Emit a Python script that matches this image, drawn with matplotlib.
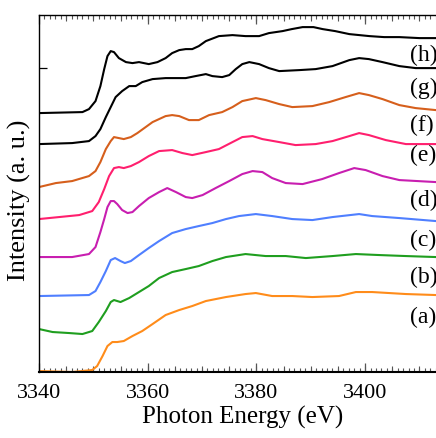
import matplotlib.pyplot as plt
import numpy as np
from matplotlib.ticker import MultipleLocator

plt.rcParams['font.family'] = ['Liberation Serif', 'DejaVu Serif']

# spectra, already stacked (arbitrary units)
energy_a = [3340, 3346.1, 3349.8, 3350.7, 3351.7, 3352.6, 3353.5, 3354.4, 3355.6, 3357.2, 3359.0, 3360.9,
            3363.3, 3365.8, 3368.2, 3370.7, 3374.4, 3378.0, 3379.9, 3382.9, 3386.6, 3390.3, 3395.2,
            3398.3, 3401.3, 3407.5, 3413, 3415]
inten_a = [0.01, 0.00, 0.02, 0.06, 0.16, 0.26, 0.30, 0.30, 0.31, 0.36, 0.41, 0.48,
           0.57, 0.62, 0.66, 0.71, 0.75, 0.78, 0.79, 0.76, 0.76, 0.75, 0.76,
           0.80, 0.80, 0.78, 0.77, 0.77]

energy_b = [3340, 3342.5, 3345.5, 3348.0, 3349.8, 3351.0, 3352.3, 3353.2, 3353.8, 3355.0, 3356.6, 3358.4,
            3360.2, 3362.1, 3364.5, 3367.0, 3369.4, 3371.9, 3374.4, 3378.0, 3381.7, 3385.4, 3389.1,
            3394.0, 3398.3, 3402.6, 3407.5, 3413, 3415]
inten_b = [0.43, 0.40, 0.39, 0.38, 0.41, 0.50, 0.61, 0.70, 0.72, 0.70, 0.74, 0.80,
           0.86, 0.94, 1.00, 1.03, 1.06, 1.11, 1.15, 1.18, 1.16, 1.16, 1.14,
           1.16, 1.18, 1.17, 1.16, 1.15, 1.15]

energy_c = [3340, 3349.2, 3350.4, 3351.3, 3352.3, 3353.2, 3354.0, 3355.0, 3355.8, 3356.9, 3358.4, 3360.2,
            3362.1, 3364.5, 3367.0, 3369.4, 3371.9, 3374.4, 3376.8, 3379.9, 3382.9, 3386.6, 3390.3,
            3394.0, 3398.9, 3401.3, 3406.3, 3413, 3415]
inten_c = [0.76, 0.77, 0.81, 0.90, 1.01, 1.12, 1.14, 1.11, 1.09, 1.11, 1.17, 1.24,
           1.31, 1.39, 1.43, 1.46, 1.49, 1.53, 1.56, 1.58, 1.56, 1.53, 1.52,
           1.55, 1.58, 1.56, 1.54, 1.51, 1.51]

energy_d = [3340, 3346.1, 3349.2, 3350.4, 3350.7, 3351.3, 3352.0, 3352.6, 3353.2, 3353.8, 3354.4, 3355.3,
            3356.3, 3357.2, 3358.4, 3360.2, 3362.1, 3363.6, 3365.2, 3367.0, 3368.2, 3370.1, 3372.5,
            3375.0, 3377.4, 3379.3, 3381.1, 3382.9, 3385.4, 3388.5, 3392.1, 3395.2, 3398.0, 3400.1,
            3403.2, 3406.3, 3413, 3415]
inten_d = [1.15, 1.15, 1.18, 1.25, 1.30, 1.40, 1.53, 1.65, 1.71, 1.71, 1.68, 1.62,
           1.59, 1.60, 1.66, 1.74, 1.80, 1.84, 1.80, 1.75, 1.74, 1.77, 1.84,
           1.91, 1.98, 2.01, 2.00, 1.94, 1.89, 1.88, 1.93, 1.99, 2.04, 2.02,
           1.96, 1.92, 1.90, 1.90]

energy_e = [3340, 3343.7, 3347.4, 3349.8, 3351.0, 3352.0, 3352.9, 3353.8, 3354.7, 3355.6, 3356.9, 3358.4,
            3360.2, 3362.1, 3364.5, 3366.4, 3368.2, 3370.7, 3373.1, 3375.6, 3377.4, 3379.3, 3381.1,
            3384.2, 3387.2, 3390.9, 3394.0, 3397.1, 3398.9, 3400.7, 3403.8, 3407.5, 3413, 3415]
inten_e = [1.53, 1.55, 1.57, 1.61, 1.70, 1.83, 1.96, 2.04, 2.05, 2.04, 2.06, 2.10,
           2.16, 2.21, 2.22, 2.19, 2.17, 2.20, 2.23, 2.30, 2.35, 2.36, 2.33,
           2.30, 2.27, 2.28, 2.31, 2.36, 2.39, 2.37, 2.32, 2.28, 2.28, 2.28]

energy_f = [3340, 3343.1, 3346.1, 3349.2, 3350.4, 3351.3, 3352.3, 3353.2, 3353.8, 3354.7, 3355.6, 3356.9,
            3358.1, 3360.9, 3363.3, 3364.5, 3365.8, 3367.6, 3369.4, 3371.3, 3373.7, 3375.6, 3377.4,
            3379.9, 3381.7, 3384.2, 3386.6, 3390.3, 3393.4, 3396.4, 3398.9, 3400.7, 3403.2, 3406.3,
            3409.3, 3413, 3415]
inten_f = [1.85, 1.89, 1.91, 1.96, 2.01, 2.10, 2.23, 2.31, 2.35, 2.34, 2.33, 2.35,
           2.39, 2.50, 2.56, 2.57, 2.56, 2.52, 2.52, 2.57, 2.60, 2.65, 2.71,
           2.74, 2.72, 2.68, 2.65, 2.66, 2.70, 2.75, 2.79, 2.77, 2.73, 2.67,
           2.64, 2.62, 2.62]

energy_g = [3340, 3346.1, 3349.2, 3350.4, 3351.3, 3352.3, 3353.2, 3354.1, 3355.3, 3356.6, 3357.8, 3359.0,
            3360.9, 3363.3, 3367.0, 3368.8, 3370.7, 3371.9, 3373.7, 3375.0, 3376.2, 3377.4, 3378.7,
            3380.5, 3382.3, 3384.2, 3387.9, 3390.9, 3394.0, 3397.1, 3398.9, 3400.7, 3403.2, 3406.3,
            3409.3, 3413, 3415]
inten_g = [2.28, 2.29, 2.31, 2.36, 2.43, 2.55, 2.65, 2.75, 2.81, 2.86, 2.86, 2.90,
           2.93, 2.94, 2.94, 2.96, 2.98, 2.96, 2.95, 2.97, 3.03, 3.08, 3.10,
           3.08, 3.04, 3.01, 3.02, 3.03, 3.06, 3.12, 3.14, 3.13, 3.10, 3.06,
           3.04, 3.04, 3.04]

energy_h = [3340, 3348.0, 3349.2, 3350.4, 3351.3, 3352.0, 3352.6, 3353.2, 3353.8, 3354.7, 3356.0, 3357.2,
            3358.4, 3360.2, 3361.8, 3363.3, 3364.5, 3365.8, 3367.0, 3368.2, 3369.4, 3370.7, 3373.1,
            3375.6, 3378.0, 3380.5, 3382.3, 3384.8, 3386.5, 3388.5, 3390.5, 3392.2, 3394.5, 3397.1,
            3400.8, 3403.5, 3406.3, 3410, 3415]
inten_h = [2.59, 2.60, 2.63, 2.71, 2.86, 3.03, 3.16, 3.21, 3.20, 3.14, 3.10, 3.09,
           3.10, 3.08, 3.10, 3.14, 3.19, 3.22, 3.23, 3.23, 3.26, 3.31, 3.36,
           3.37, 3.36, 3.36, 3.39, 3.41, 3.43, 3.45, 3.45, 3.43, 3.41, 3.38,
           3.36, 3.35, 3.35, 3.34, 3.34]

names = ['(a)', '(b)', '(c)', '(d)', '(e)', '(f)', '(g)', '(h)']
label_y = [0.56, 0.96, 1.33, 1.73, 2.18, 2.48, 2.85, 3.18]
colors = ['#ff8c1a', '#1f9e1f', '#4f7fff', '#c81eb0', '#ff1f6e', '#d65f1c', 'black', 'black']

energies = [energy_a, energy_b, energy_c, energy_d, energy_e, energy_f, energy_g, energy_h]
intens = [inten_a, inten_b, inten_c, inten_d, inten_e, inten_f, inten_g, inten_h]

fig = plt.figure(figsize=(4.36, 4.39), dpi=100)
ax = fig.add_axes([0.0894, 0.1503, 0.935, 0.813])

for e, i, c in zip(energies, intens, colors):
    ax.plot(e, i, color=c, lw=1.5)

for name, y in zip(names, label_y):
    ax.text(3408.3, y, name, fontsize=17, va='center', ha='left')

ax.set_xlim(3340, 3415)
ax.set_ylim(0, 3.57)
ax.xaxis.set_major_locator(MultipleLocator(20))
ax.xaxis.set_minor_locator(MultipleLocator(1))
ax.set_yticks([3.04])
ax.set_yticklabels([])
ax.tick_params(axis='x', which='both', direction='in', top=True, labelsize=16, pad=8, color='#555555')
ax.tick_params(axis='x', which='major', length=6.5, width=0.9)
ax.tick_params(axis='x', which='minor', length=3, width=0.8)
ax.tick_params(axis='y', direction='in', length=6, width=0.9)

# medium ticks every 5 eV
for loc in ['bottom', 'top']:
    sec = ax.secondary_xaxis(loc)
    sec.set_xticks(np.arange(3345, 3416, 5))
    sec.tick_params(direction='in', length=4.5, width=0.8, color='#555555',
                    labelbottom=False, labeltop=False)
    sec.spines[loc].set_visible(False)

ax.spines['bottom'].set_linewidth(1.5)
for s in ['left', 'top', 'right']:
    ax.spines[s].set_linewidth(1.0)

ax.set_xlabel('Photon Energy (eV)', fontsize=18, labelpad=2)
ax.set_ylabel('Intensity (a. u.)', fontsize=19)
ax.yaxis.set_label_coords(-0.02, 0.485)

fig.savefig('out.png', dpi=100)
